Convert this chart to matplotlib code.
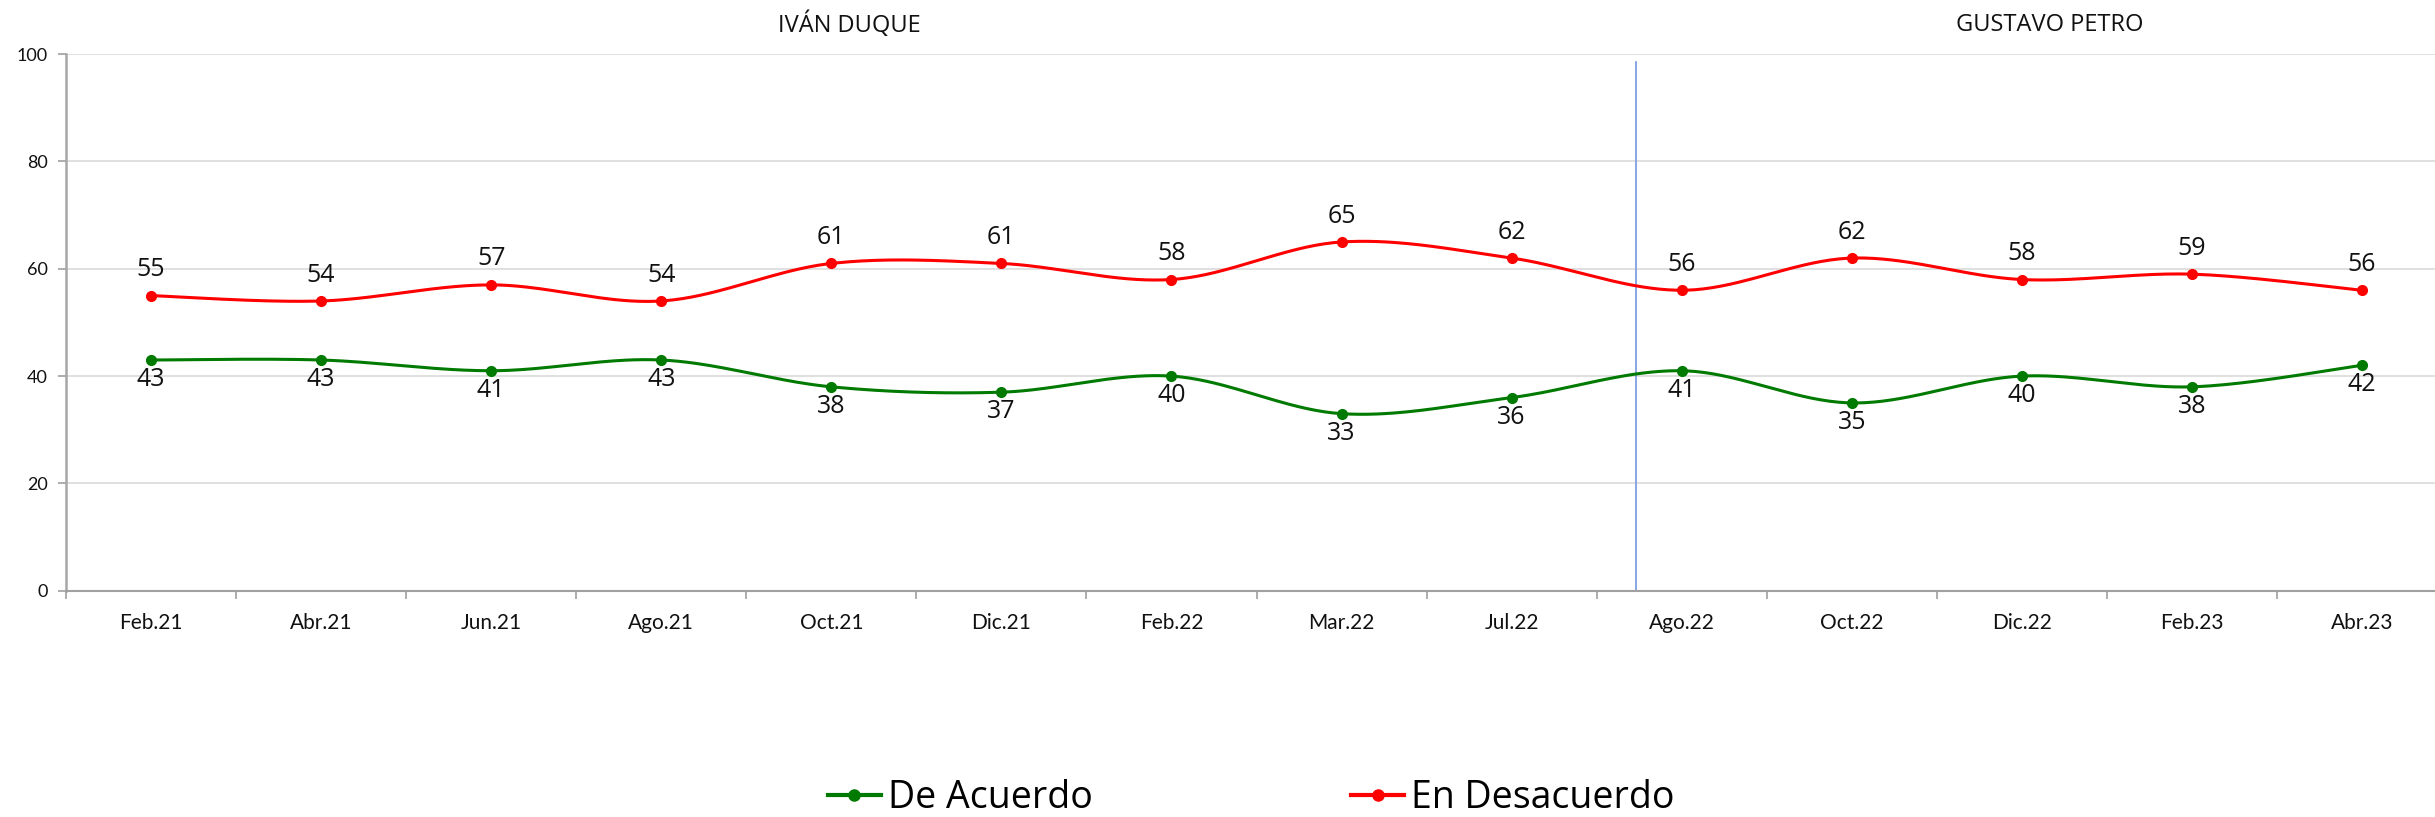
import numpy as np
import matplotlib
matplotlib.use("Agg")
import matplotlib.pyplot as plt
from matplotlib.lines import Line2D

# Survey periods and approval shares (%)
periods = ["Feb.21", "Abr.21", "Jun.21", "Ago.21", "Oct.21", "Dic.21", "Feb.22",
           "Mar.22", "Jul.22", "Ago.22", "Oct.22", "Dic.22", "Feb.23", "Abr.23"]
en_desacuerdo = [55, 54, 57, 54, 61, 61, 58, 65, 62, 56, 62, 58, 59, 56]
de_acuerdo = [43, 43, 41, 43, 38, 37, 40, 33, 36, 41, 35, 40, 38, 42]
yticks = [0, 20, 40, 60, 80, 100]
periods_titles = ["IVÁN DUQUE", "GUSTAVO PETRO"]

LABELF = ["Open Sans", "DejaVu Sans"]
TICKF = ["Lato", "DejaVu Sans"]

RED = "#FF0000"
GREEN = "#007A00"


def smooth(xs, ys, n=40):
    """Catmull-Rom curve through the points (same shape as smoothed office charts)."""
    xs = np.asarray(xs, float)
    ys = np.asarray(ys, float)
    px = np.concatenate([[xs[0]], xs, [xs[-1]]])
    py = np.concatenate([[ys[0]], ys, [ys[-1]]])
    outx, outy = [], []
    t = np.linspace(0, 1, n)
    for i in range(1, len(px) - 2):
        p0x, p1x, p2x, p3x = px[i - 1], px[i], px[i + 1], px[i + 2]
        p0y, p1y, p2y, p3y = py[i - 1], py[i], py[i + 1], py[i + 2]
        c1x, c1y = p1x + (p2x - p0x) / 6, p1y + (p2y - p0y) / 6
        c2x, c2y = p2x - (p3x - p1x) / 6, p2y - (p3y - p1y) / 6
        b0 = (1 - t) ** 3
        b1 = 3 * (1 - t) ** 2 * t
        b2 = 3 * (1 - t) * t ** 2
        b3 = t ** 3
        outx.append(b0 * p1x + b1 * c1x + b2 * c2x + b3 * p2x)
        outy.append(b0 * p1y + b1 * c1y + b2 * c2y + b3 * p2y)
    return np.concatenate(outx), np.concatenate(outy)


fig = plt.figure(figsize=(24.35, 8.17), dpi=100)
ax = fig.add_axes([66 / 2435, 226.3 / 817, 2381 / 2435, 536.5 / 817])

x = np.arange(len(periods))

for vals, col in [(en_desacuerdo, RED), (de_acuerdo, GREEN)]:
    sx, sy = smooth(x, vals)
    ax.plot(sx, sy, color=col, lw=2.2, solid_capstyle="round", zorder=3)
    ax.plot(x, vals, "o", color=col, ms=7, zorder=4)

for xi, v in zip(x, en_desacuerdo):
    ax.annotate(f"{v}", (xi, v), xytext=(0, 14), textcoords="offset points",
                ha="center", va="baseline", fontsize=18, family=LABELF, color="#111111")
for xi, v in zip(x, de_acuerdo):
    ax.annotate(f"{v}", (xi, v), xytext=(0, -5), textcoords="offset points",
                ha="center", va="top", fontsize=18, family=LABELF, color="#111111")

# Separator between the two presidencies
ax.plot([8.73, 8.73], [0, 98.5], color="#7F9FDF", lw=1.3, zorder=2)

ax.set_xlim(-0.5, 13.5)
ax.set_ylim(0, 100)
ax.set_yticks(yticks)
ax.set_xticks(np.arange(-0.5, 14, 1))
ax.set_xticklabels([])
ax.set_xticks(x, minor=True)
ax.set_xticklabels(periods, minor=True, fontsize=15, family=TICKF, color="#111111")
ax.tick_params(axis="x", which="major", length=6, width=1.2, color="#A0A0A0")
ax.tick_params(axis="x", which="minor", length=0, pad=16)
ax.tick_params(axis="y", length=6, width=1.2, color="#A0A0A0", pad=7,
               labelsize=13, labelcolor="#111111")
for lab in ax.get_yticklabels():
    lab.set_family(TICKF)

ax.grid(axis="y", color="#DDDDDD", lw=1.3, zorder=0)
ax.set_axisbelow(True)
for s in ["top", "right"]:
    ax.spines[s].set_visible(False)
ax.spines["left"].set_color("#A6A6A6")
ax.spines["left"].set_linewidth(1.8)
ax.spines["bottom"].set_color("#A0A0A0")
ax.spines["bottom"].set_linewidth(1.5)

fig.text(849 / 2435, 1 - 25 / 817, periods_titles[0], ha="center", va="center",
         fontsize=17, family=LABELF, color="#111111")
fig.text(2050 / 2435, 1 - 25 / 817, periods_titles[1], ha="center", va="center",
         fontsize=17, family=LABELF, color="#111111")

handles = [Line2D([], [], color=GREEN, lw=3, marker="o", ms=8),
           Line2D([], [], color=RED, lw=3, marker="o", ms=8)]
fig.legend(handles, ["De Acuerdo", "En Desacuerdo"], loc="lower left",
           bbox_to_anchor=(828 / 2435, 0.0), ncol=2, frameon=False,
           borderpad=0, borderaxespad=0,
           prop={"family": LABELF, "size": 27}, handlelength=1.4, handletextpad=0.19,
           columnspacing=6.9)

fig.savefig("out.png", dpi=100, facecolor="white")
